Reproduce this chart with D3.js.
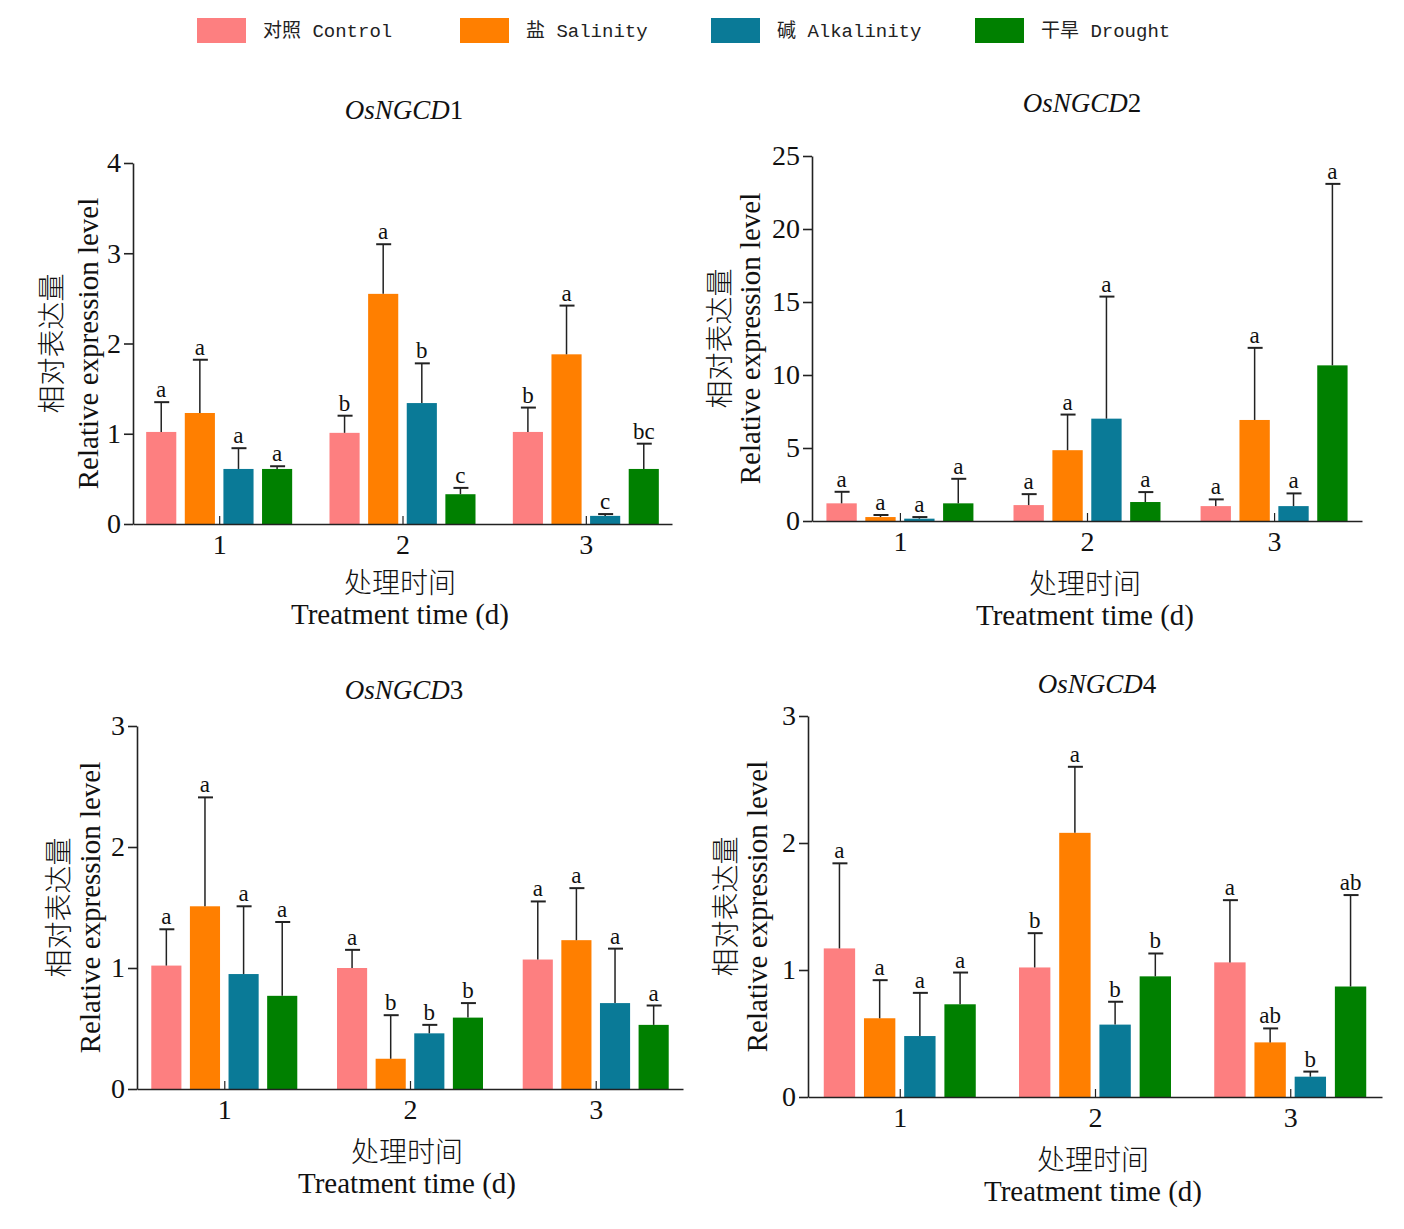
<!DOCTYPE html>
<html>
<head>
<meta charset="utf-8">
<title>OsNGCD relative expression</title>
<script src="https://d3js.org/d3.v7.min.js"></script>
<style>
    body { margin:0; background:#fff; }
    svg { display:block; }
    .serif { font-family:'Liberation Serif','Times New Roman',serif; fill:#111; }
    .cjk { font-family:'Noto Sans CJK SC',sans-serif; fill:#111; font-weight:300; }
    .legend-text { font-family:'Liberation Mono','Noto Sans CJK SC',monospace; fill:#222; }
</style>
</head>
<body>
<svg width="1404" height="1229"></svg>
<script>

// categories
const days = ['1', '2', '3'];
const treatments = ['对照 Control', '盐 Salinity', '碱 Alkalinity', '干旱 Drought'];
const treatmentColors = ['#fd7f80', '#ff7f00', '#0a7a97', '#008000'];

// each row is one day, columns follow the treatments order
const ngcd1Mean = [[1.02, 1.23, 0.61, 0.61], [1.01, 2.55, 1.34, 0.33], [1.02, 1.88, 0.09, 0.61]];
const ngcd1Sd   = [[0.33, 0.59, 0.23, 0.03], [0.19, 0.55, 0.44, 0.07], [0.27, 0.54, 0.02, 0.28]];
const ngcd1Sig  = [['a', 'a', 'a', 'a'], ['b', 'a', 'b', 'c'], ['b', 'a', 'c', 'bc']];

const ngcd2Mean = [[1.21, 0.27, 0.16, 1.21], [1.09, 4.85, 7.01, 1.30], [1.02, 6.92, 1.02, 10.66]];
const ngcd2Sd   = [[0.79, 0.14, 0.11, 1.68], [0.75, 2.44, 8.36, 0.68], [0.46, 4.94, 0.87, 12.43]];
const ngcd2Sig  = [['a', 'a', 'a', 'a'], ['a', 'a', 'a', 'a'], ['a', 'a', 'a', 'a']];

const ngcd3Mean = [[1.02, 1.51, 0.95, 0.77], [1.00, 0.25, 0.46, 0.59], [1.07, 1.23, 0.71, 0.53]];
const ngcd3Sd   = [[0.30, 0.90, 0.56, 0.61], [0.15, 0.36, 0.07, 0.12], [0.48, 0.43, 0.45, 0.16]];
const ngcd3Sig  = [['a', 'a', 'a', 'a'], ['a', 'b', 'b', 'b'], ['a', 'a', 'a', 'a']];

const ngcd4Mean = [[1.17, 0.62, 0.48, 0.73], [1.02, 2.08, 0.57, 0.95], [1.06, 0.43, 0.16, 0.87]];
const ngcd4Sd   = [[0.67, 0.30, 0.34, 0.25], [0.27, 0.52, 0.18, 0.18], [0.49, 0.11, 0.04, 0.72]];
const ngcd4Sig  = [['a', 'a', 'a', 'a'], ['b', 'a', 'b', 'b'], ['a', 'ab', 'b', 'ab']];

const yTicks1 = [0, 1, 2, 3, 4];
const yTicks2 = [0, 5, 10, 15, 20, 25];
const yTicks3 = [0, 1, 2, 3];
const yTicks4 = [0, 1, 2, 3];

// panel layout (pixels only, values come from the arrays above)
const panels = [
    { gene: '1', mean: ngcd1Mean, sd: ngcd1Sd, sig: ngcd1Sig, ticks: yTicks1,
      left: 133, right: 672, top: 163, bottom: 524, groupW: 146,
      titleX: 404, titleY: 119, cnX: -83, enX: -45, xLabelX: 400, xLabelY: 593 },
    { gene: '2', mean: ngcd2Mean, sd: ngcd2Sd, sig: ngcd2Sig, ticks: yTicks2,
      left: 812, right: 1362, top: 156, bottom: 521, groupW: 147,
      titleX: 1082, titleY: 112, cnX: -94, enX: -62, xLabelX: 1085, xLabelY: 594 },
    { gene: '3', mean: ngcd3Mean, sd: ngcd3Sd, sig: ngcd3Sig, ticks: yTicks3,
      left: 137, right: 683, top: 726, bottom: 1089, groupW: 146,
      titleX: 404, titleY: 699, cnX: -80, enX: -47, xLabelX: 407, xLabelY: 1162 },
    { gene: '4', mean: ngcd4Mean, sd: ngcd4Sd, sig: ngcd4Sig, ticks: yTicks4,
      left: 808, right: 1382, top: 716, bottom: 1097, groupW: 152,
      titleX: 1097, titleY: 693, cnX: -84, enX: -51, xLabelX: 1093, xLabelY: 1170 }
];

let svg = d3.select('svg');

// legend across the top
const legendX = [197, 460, 711, 975];
let legend = svg.append('g').attr('id', 'legend');
legend.selectAll('rect')
    .data(treatments)
    .join('rect')
    .attr('x', (d, i) => legendX[i])
    .attr('y', 18)
    .attr('width', 49)
    .attr('height', 25)
    .style('fill', (d, i) => treatmentColors[i]);
legend.selectAll('text')
    .data(treatments)
    .join('text')
    .classed('legend-text', true)
    .attr('x', (d, i) => legendX[i] + 66)
    .attr('y', 37)
    .style('font-size', '19px')
    .text(d => d);

panels.forEach(drawPanel);

function drawPanel(p) {
    let g = svg.append('g');

    let yScale = d3.scaleLinear()
                    .domain([0, d3.max(p.ticks)])
                    .range([p.bottom, p.top]);
    let xScale = d3.scalePoint()
                    .domain(days)
                    .range([p.left, p.right])
                    .padding(0.47);
    let innerScale = d3.scaleBand()
                    .domain(treatments)
                    .range([-p.groupW / 2, p.groupW / 2])
                    .paddingInner(0.22);

    // title: italic gene name with upright number
    let title = g.append('text')
                 .classed('serif', true)
                 .attr('x', p.titleX)
                 .attr('y', p.titleY)
                 .attr('text-anchor', 'middle')
                 .style('font-size', '27px');
    title.append('tspan').style('font-style', 'italic').text('OsNGCD');
    title.append('tspan').text(p.gene);

    // flatten rows into bar records
    let bars = [];
    days.forEach((day, di) => {
        treatments.forEach((t, ti) => {
            bars.push({ day: day, treatment: t, ti: ti,
                        mean: p.mean[di][ti], sd: p.sd[di][ti], sig: p.sig[di][ti] });
        });
    });
    const cx = d => xScale(d.day) + innerScale(d.treatment) + innerScale.bandwidth() / 2;

    g.selectAll('.bar')
        .data(bars)
        .join('rect')
        .classed('bar', true)
        .attr('x', d => xScale(d.day) + innerScale(d.treatment))
        .attr('y', d => yScale(d.mean))
        .attr('width', innerScale.bandwidth())
        .attr('height', d => yScale(0) - yScale(d.mean))
        .style('fill', d => treatmentColors[d.ti]);

    // error bars (upper half only)
    g.selectAll('.err')
        .data(bars)
        .join('line')
        .classed('err', true)
        .attr('x1', cx).attr('x2', cx)
        .attr('y1', d => yScale(d.mean))
        .attr('y2', d => yScale(d.mean + d.sd))
        .style('stroke', '#222')
        .style('stroke-width', 1.5);
    g.selectAll('.cap')
        .data(bars)
        .join('line')
        .classed('cap', true)
        .attr('x1', d => cx(d) - 7)
        .attr('x2', d => cx(d) + 8)
        .attr('y1', d => yScale(d.mean + d.sd))
        .attr('y2', d => yScale(d.mean + d.sd))
        .style('stroke', '#222')
        .style('stroke-width', 2);
    g.selectAll('.sig')
        .data(bars)
        .join('text')
        .classed('sig serif', true)
        .attr('x', cx)
        .attr('y', d => yScale(d.mean + d.sd) - 5)
        .attr('text-anchor', 'middle')
        .style('font-size', '23px')
        .text(d => d.sig);

    // axes
    let yAxis = g.append('g')
        .attr('transform', `translate(${p.left},0)`)
        .call(d3.axisLeft(yScale).tickValues(p.ticks).tickFormat(d3.format('d'))
                .tickSize(9).tickSizeOuter(0).tickPadding(3));
    let xAxis = g.append('g')
        .attr('transform', `translate(0,${p.bottom})`)
        .call(d3.axisBottom(xScale).tickSize(-8).tickSizeOuter(0).tickPadding(10));
    [yAxis, xAxis].forEach(a => {
        a.selectAll('path, line').style('stroke', '#222').style('stroke-width', 1.6);
        a.selectAll('text').classed('serif', true).style('font-size', '28px').attr('fill', '#111');
    });
    xAxis.selectAll('.tick line').style('stroke-width', 1.2);

    // y label, two rotated lines
    let midY = (p.top + p.bottom) / 2;
    g.append('text')
        .classed('cjk', true)
        .attr('transform', `translate(${p.left + p.cnX},${midY}) rotate(-90)`)
        .attr('text-anchor', 'middle')
        .attr('dominant-baseline', 'central')
        .style('font-size', '28px')
        .text('相对表达量');
    g.append('text')
        .classed('serif', true)
        .attr('transform', `translate(${p.left + p.enX},${midY}) rotate(-90)`)
        .attr('text-anchor', 'middle')
        .attr('dominant-baseline', 'central')
        .style('font-size', '29px')
        .text('Relative expression level');

    // x label, two lines
    g.append('text')
        .classed('cjk', true)
        .attr('x', p.xLabelX)
        .attr('y', p.xLabelY)
        .attr('text-anchor', 'middle')
        .style('font-size', '28px')
        .text('处理时间');
    g.append('text')
        .classed('serif', true)
        .attr('x', p.xLabelX)
        .attr('y', p.xLabelY + 31)
        .attr('text-anchor', 'middle')
        .style('font-size', '29px')
        .text('Treatment time (d)');
}

</script>
</body>
</html>
